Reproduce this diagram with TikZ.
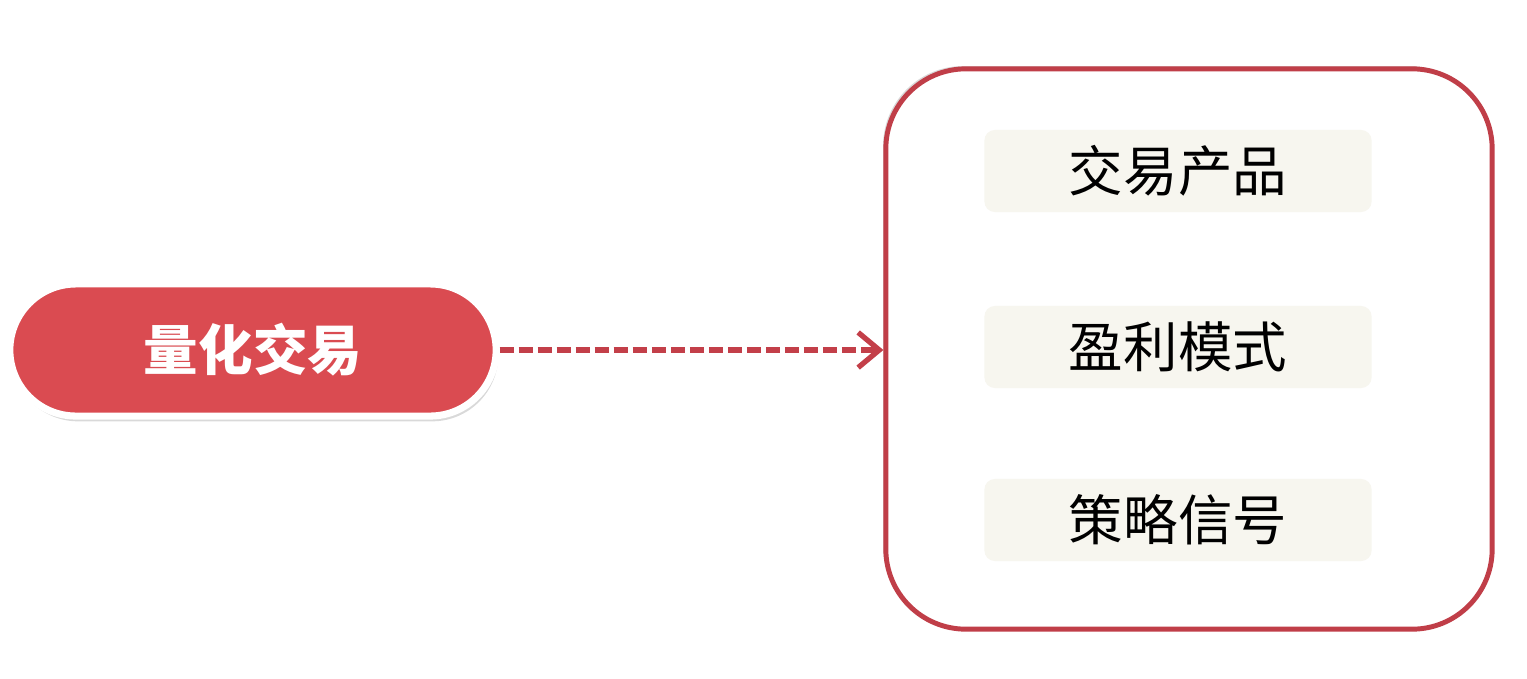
\documentclass[tikz,border=0pt]{standalone}
\usepackage{fontspec}
\newfontfamily\cjk{Noto Sans CJK SC}
\usetikzlibrary{arrows.meta,shadows}
\definecolor{pillred}{HTML}{DA4B51}
\definecolor{framered}{HTML}{C03E48}
\definecolor{boxfill}{HTML}{F7F6EF}
\tikzset{
  itembox/.style={rectangle,rounded corners=3pt,fill=boxfill,
    minimum width=3.87cm,minimum height=0.82cm,
    font=\cjk\fontsize{15.5}{16}\selectfont}
}
\begin{document}
\begin{tikzpicture}[x=0.01cm,y=-0.01cm]
  \useasboundingbox (0,0) rectangle (1527,678);
  \node (quant) [rectangle,rounded corners=0.66cm,minimum width=4.86cm,
    minimum height=1.32cm,fill=pillred,draw=white,line width=2pt,
    drop shadow={opacity=.3,shadow xshift=.6pt,shadow yshift=-1.5pt},
    text=white,font=\cjk\bfseries\fontsize{15.5}{16}\selectfont]
    at (253,350) {量化交易};
  \node (frame) [rectangle,rounded corners=0.8cm,minimum width=6.06cm,
    minimum height=5.6cm,draw=framered,line width=1.4pt,fill=white,
    drop shadow={opacity=.3,shadow xshift=-.8pt,shadow yshift=.8pt}]
    at (1189,349) {};
  \node[itembox] (product) at (1178,171) {交易产品};
  \node[itembox] (profit) at (1178,347) {盈利模式};
  \node[itembox] (signal) at (1178,520) {策略信号};
  \draw[framered!90!pillred,line width=1.5pt,dash pattern=on 0.14cm off 0.05cm,
    -{Straight Barb[length=6pt,width=10pt,line width=1.5pt]}]
    (quant.east) -- (quant.east -| frame.west);
\end{tikzpicture}
\end{document}
